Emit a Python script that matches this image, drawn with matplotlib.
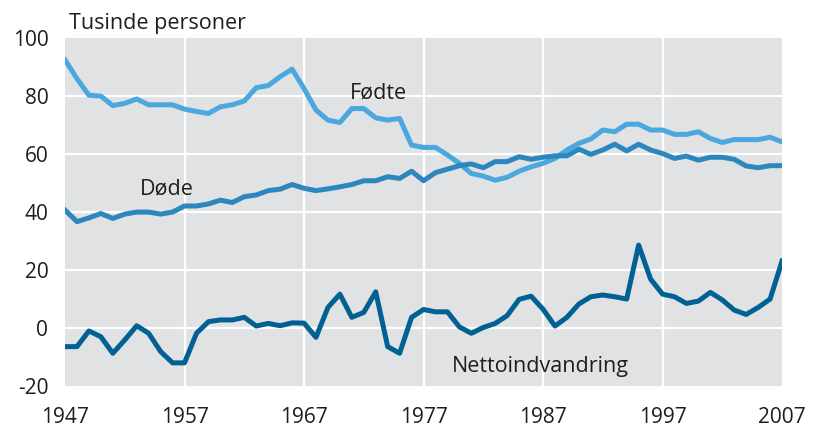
import matplotlib.pyplot as plt

years = list(range(1947, 2008))

# Fødte, tusinde personer
foedte = [92.5, 86, 80.3, 80, 76.7, 77.5, 79, 77, 77, 77,
          75.5, 74.7, 74, 76.3, 77, 78.3, 82.9, 83.6, 86.7, 89.3,
          82.6, 75.2, 71.7, 70.9, 75.7, 75.7, 72.5, 71.7, 72.3, 63.1,
          62.3, 62.3, 59.7, 56.8, 53.3, 52.4, 51, 52, 54.1, 55.6,
          56.8, 58.5, 61.4, 63.7, 65.2, 68.3, 67.7, 70.3, 70.3, 68.3,
          68.3, 66.8, 66.8, 67.7, 65.4, 64, 65, 65, 65, 65.8,
          64.2]

# Døde
doede = [40.7, 36.7, 38, 39.5, 37.8, 39.3, 40, 40, 39.3, 40,
         42.1, 42.1, 42.8, 44.1, 43.3, 45.3, 45.9, 47.4, 47.9, 49.5,
         48.2, 47.4, 48, 48.7, 49.5, 50.8, 50.8, 52.2, 51.6, 54.1,
         50.8, 53.6, 54.8, 56, 56.6, 55.3, 57.4, 57.4, 59.1, 58.2,
         58.9, 59.4, 59.4, 61.7, 59.9, 61.4, 63.4, 61.1, 63.4, 61.4,
         60.2, 58.5, 59.3, 57.9, 58.9, 58.9, 58.2, 55.9, 55.3, 56,
         56]

# Nettoindvandring
netto = [-6.4, -6.4, -1, -3, -8.7, -4.1, 0.8, -1.8, -8.1, -12,
         -12, -1.8, 2.2, 2.8, 2.8, 3.7, 0.7, 1.6, 0.8, 1.8,
         1.7, -3.2, 7.1, 11.7, 3.7, 5.4, 12.5, -6.4, -8.7, 3.7,
         6.4, 5.6, 5.6, 0.4, -1.8, 0.2, 1.6, 4.3, 9.9, 11,
         6.5, 0.7, 3.7, 8.3, 10.8, 11.4, 10.8, 10, 28.6, 16.9,
         11.7, 10.8, 8.5, 9.3, 12.3, 9.7, 6.2, 4.7, 7.1, 10,
         23.1]

xticks = [1947, 1957, 1967, 1977, 1987, 1997, 2007]
yticks = [-20, 0, 20, 40, 60, 80, 100]

plt.rcParams['font.family'] = ['Open Sans', 'DejaVu Sans']
txt_col = '#1e1e1e'

fig = plt.figure(figsize=(8.2, 4.28), dpi=100)
ax = fig.add_axes([0.0793, 0.098, 0.8744, 0.813])
ax.set_facecolor('#e1e2e4')

# white grid, only the inner lines
for x in xticks[1:-1]:
    ax.axvline(x, color='white', lw=1.6, zorder=1)
for y in yticks[1:-1]:
    ax.axhline(y, color='white', lw=1.6, zorder=1)

ax.plot(years, foedte, color='#4aa8de', lw=3.6, zorder=3, solid_joinstyle='round')
ax.plot(years, doede, color='#2b87bd', lw=3.6, zorder=3, solid_joinstyle='round')
ax.plot(years, netto, color='#006192', lw=3.6, zorder=4, solid_joinstyle='round')

ax.set_xlim(1947, 2007)
ax.set_ylim(-20, 100)
ax.set_xticks(xticks)
ax.set_yticks(yticks)
ax.set_xticklabels([str(x) for x in xticks], fontsize=15, color=txt_col)
ax.set_yticklabels([str(y) for y in yticks], fontsize=15, color=txt_col)
ax.tick_params(axis='y', length=0, pad=12)
ax.tick_params(axis='x', length=0, pad=15)
for s in ax.spines.values():
    s.set_visible(False)

ax.text(1953.3, 46.1, 'Døde', fontsize=15.5, color=txt_col)
ax.text(1970.85, 79.2, 'Fødte', fontsize=15.5, color=txt_col)
ax.text(1979.4, -15.1, 'Nettoindvandring', fontsize=15.5, color=txt_col)
fig.text(69, 428 - 29.3, 'Tusinde personer', fontsize=15.5, color=txt_col,
         transform=None)

fig.savefig('out.png', dpi=100)
